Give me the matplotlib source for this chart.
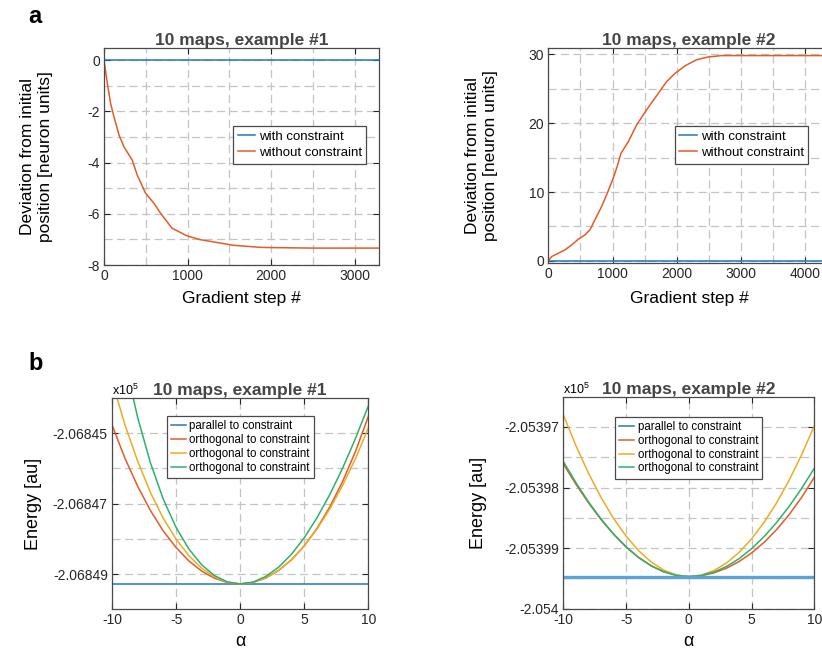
import matplotlib
matplotlib.use('Agg')
import matplotlib.pyplot as plt
from matplotlib.ticker import MultipleLocator, FuncFormatter

plt.rcParams['font.family'] = ['Liberation Sans', 'DejaVu Sans']
plt.rcParams['mathtext.fontset'] = 'custom'
plt.rcParams['mathtext.rm'] = 'Liberation Sans'
plt.rcParams['axes.unicode_minus'] = False

# ---- panel a : deviation from initial position ----
steps_ex1 = [0, 40, 79, 119, 179, 238, 337, 397, 496, 595, 675, 813, 992, 1151,
             1349, 1548, 1865, 2000, 2500, 3000, 3300]
free_ex1 = [0, -0.91, -1.69, -2.21, -2.92, -3.38, -3.90, -4.48, -5.19, -5.58, -5.97,
            -6.56, -6.86, -7.01, -7.12, -7.23, -7.31, -7.32, -7.34, -7.34, -7.34]
con_steps_ex1 = [0, 3300]
con_ex1 = [0, 0]

steps_ex2 = [0, 52, 155, 259, 363, 466, 570, 648, 725, 829, 907, 1010, 1078, 1130,
             1244, 1373, 1477, 1580, 1710, 1839, 1969, 2124, 2306, 2487, 2694, 3057,
             3500, 4000, 4500]
free_ex2 = [0, 0.63, 1.11, 1.60, 2.32, 3.14, 3.77, 4.50, 5.95, 7.89, 9.58, 12.0, 13.9,
            15.6, 17.3, 19.7, 21.2, 22.6, 24.3, 26.0, 27.2, 28.3, 29.2, 29.6, 29.8,
            29.8, 29.8, 29.8, 29.8]
con_steps_ex2 = [0, 4500]
con_ex2 = [0, 0]

# ---- panel b : energy along directions (rise above minimum) ----
alpha = [-10, -9, -8, -7, -6, -5, -4, -3, -2, -1, 0, 1, 2, 3, 4, 5, 6, 7, 8, 9, 10]

emin_ex1 = -206849.28
orth1_ex1 = [4.51, 3.57, 2.77, 2.08, 1.50, 1.03, 0.652, 0.363, 0.161, 0.040, 0,
             0.042, 0.168, 0.381, 0.684, 1.08, 1.58, 2.19, 2.91, 3.76, 4.75]
orth2_ex1 = [5.76, 4.52, 3.48, 2.59, 1.86, 1.27, 0.799, 0.444, 0.195, 0.049, 0,
             0.043, 0.172, 0.387, 0.690, 1.08, 1.56, 2.13, 2.80, 3.56, 4.42]
orth3_ex1 = [8.26, 6.31, 4.72, 3.43, 2.40, 1.60, 0.988, 0.540, 0.235, 0.058, 0,
             0.053, 0.212, 0.475, 0.842, 1.31, 1.88, 2.54, 3.29, 4.13, 5.05]

emin_ex2 = -205399.47
orth1_ex2 = [1.86, 1.525, 1.219, 0.943, 0.699, 0.49, 0.315, 0.178, 0.080, 0.020, 0,
             0.015, 0.061, 0.139, 0.248, 0.39, 0.566, 0.777, 1.025, 1.312, 1.64]
orth2_ex2 = [2.67, 2.163, 1.709, 1.308, 0.961, 0.668, 0.427, 0.240, 0.107, 0.027, 0,
             0.025, 0.100, 0.224, 0.398, 0.623, 0.896, 1.220, 1.594, 2.017, 2.49]
orth3_ex2 = [1.90, 1.552, 1.234, 0.951, 0.703, 0.49, 0.315, 0.177, 0.079, 0.020, 0,
             0.019, 0.074, 0.166, 0.295, 0.46, 0.660, 0.894, 1.161, 1.460, 1.79]

BLUE = '#2776b8'
RED = '#e25c28'
ORANGE = '#eeac22'
GREEN = '#2db16c'
EDGE = '#4a4a4a'


def style(ax):
    for s in ax.spines.values():
        s.set_color(EDGE)
        s.set_linewidth(0.9)
    ax.tick_params(which='major', direction='in', length=4, width=0.8, top=True,
                   right=True, labelsize=10, colors='#262626', pad=3)
    ax.tick_params(which='minor', length=0, top=True, right=True)
    ax.grid(True, which='both', color='#c4c4c4', lw=0.9, linestyle=(0, (6.5, 3.5)))
    ax.set_axisbelow(True)


def legend(ax, x, y, fs, spacing, handles=None, labels=None):
    if handles is None:
        handles, labels = ax.get_legend_handles_labels()
    leg = ax.legend(handles, labels, loc='upper left', bbox_to_anchor=(x, y),
                    borderaxespad=0, fancybox=False, edgecolor=EDGE, framealpha=1,
                    fontsize=fs, handlelength=1.3, handletextpad=0.3, borderpad=0.35,
                    labelspacing=spacing)
    leg.get_frame().set_linewidth(0.9)
    return leg


fig = plt.figure(figsize=(8.22, 6.54), dpi=100)

# a, example 1
ax1 = fig.add_axes([0.1265, 0.5948, 0.3345, 0.3318])
ax1.plot(con_steps_ex1, con_ex1, color=BLUE, lw=1.1, label='with constraint')
ax1.plot(steps_ex1, free_ex1, color=RED, lw=1.1, label='without constraint')
ax1.set_xlim(0, 3290)
ax1.set_ylim(-8, 0.47)
ax1.xaxis.set_major_locator(MultipleLocator(1000))
ax1.xaxis.set_minor_locator(MultipleLocator(500))
ax1.yaxis.set_major_locator(MultipleLocator(2))
ax1.yaxis.set_minor_locator(MultipleLocator(1))
style(ax1)
legend(ax1, 0.469, 0.641, 9.5, 0.3)
ax1.set_title('10 maps, example #1', fontsize=12.5, fontweight='bold', color='#454545', pad=1)
ax1.set_xlabel('Gradient step #', fontsize=12.5)
ax1.set_ylabel('Deviation from initial\nposition [neuron units]', fontsize=12.5, linespacing=1.25)
ax1.xaxis.set_label_coords(0.5, -0.12)
ax1.yaxis.set_label_coords(-0.185, 0.5)

# a, example 2
ax2 = fig.add_axes([0.667, 0.5979, 0.343, 0.3292])
ax2.plot(con_steps_ex2, con_ex2, color=BLUE, lw=1.1, label='with constraint')
ax2.plot(steps_ex2, free_ex2, color=RED, lw=1.1, label='without constraint')
ax2.set_xlim(0, 4385)
ax2.set_ylim(-0.3, 30.95)
ax2.xaxis.set_major_locator(MultipleLocator(1000))
ax2.xaxis.set_minor_locator(MultipleLocator(500))
ax2.yaxis.set_major_locator(MultipleLocator(10))
ax2.yaxis.set_minor_locator(MultipleLocator(5))
style(ax2)
legend(ax2, 0.449, 0.636, 9.5, 0.3)
ax2.set_title('10 maps, example #2', fontsize=12.5, fontweight='bold', color='#454545', pad=1)
ax2.set_xlabel('Gradient step #', fontsize=12.5)
ax2.set_ylabel('Deviation from initial\nposition [neuron units]', fontsize=12.5, linespacing=1.25)
ax2.xaxis.set_label_coords(0.5, -0.13)
ax2.yaxis.set_label_coords(-0.178, 0.5)

energy_fmt = FuncFormatter(lambda v, p: '%g' % round(v / 1e5, 5))

# b, example 1
ax3 = fig.add_axes([0.1363, 0.0683, 0.3118, 0.3235])
ax3.axhline(emin_ex1, color=BLUE, lw=1.1, label='parallel to constraint')
ax3.plot(alpha, [emin_ex1 + r for r in orth1_ex1], color=RED, lw=1.1, label='orthogonal to constraint')
ax3.plot(alpha, [emin_ex1 + r for r in orth2_ex1], color=ORANGE, lw=1.1, label='orthogonal to constraint')
ax3.plot(alpha, [emin_ex1 + r for r in orth3_ex1], color=GREEN, lw=1.1, label='orthogonal to constraint')
ax3.set_xlim(-10, 10)
ax3.set_ylim(-206850, -206844)
ax3.xaxis.set_major_locator(MultipleLocator(5))
ax3.set_yticks([-206849, -206847, -206845])
ax3.set_yticks([-206848, -206846], minor=True)
ax3.yaxis.set_major_formatter(energy_fmt)
style(ax3)
legend(ax3, 0.213, 0.9135, 8.3, 0.17)
ax3.set_title('10 maps, example #1', fontsize=12.5, fontweight='bold', color='#454545', pad=2)
ax3.text(0, 1.0, r'x10$^{5}$', transform=ax3.transAxes, ha='left', va='bottom', fontsize=9)
ax3.set_xlabel('α', fontsize=13)
ax3.set_ylabel('Energy [au]', fontsize=13)
ax3.xaxis.set_label_coords(0.5, -0.11)
ax3.yaxis.set_label_coords(-0.273, 0.5)

# b, example 2
ax4 = fig.add_axes([0.6853, 0.0693, 0.3054, 0.3242])
ax4.plot(alpha, [emin_ex2 + r for r in orth1_ex2], color=RED, lw=1.1, label='orthogonal to constraint')
ax4.plot(alpha, [emin_ex2 + r for r in orth2_ex2], color=ORANGE, lw=1.1, label='orthogonal to constraint')
ax4.plot(alpha, [emin_ex2 + r for r in orth3_ex2], color=GREEN, lw=1.1, label='orthogonal to constraint')
ax4.axhline(emin_ex2, color='#5aa4da', lw=2.4, label='parallel to constraint')
h, l = ax4.get_legend_handles_labels()
ax4.set_xlim(-10, 10)
ax4.set_ylim(-205400, -205396.5)
ax4.xaxis.set_major_locator(MultipleLocator(5))
ax4.set_yticks([-205400, -205399, -205398, -205397])
ax4.set_yticks([-205399.5, -205398.5, -205397.5], minor=True)
ax4.yaxis.set_major_formatter(energy_fmt)
style(ax4)
leg = legend(ax4, 0.206, 0.906, 8.3, 0.17, [h[3], h[0], h[1], h[2]], [l[3], l[0], l[1], l[2]])
leg.legend_handles[0].set_linewidth(1.1)
leg.legend_handles[0].set_color(BLUE)
ax4.set_title('10 maps, example #2', fontsize=12.5, fontweight='bold', color='#454545', pad=2)
ax4.text(0, 1.0, r'x10$^{5}$', transform=ax4.transAxes, ha='left', va='bottom', fontsize=9)
ax4.set_xlabel('α', fontsize=13)
ax4.set_ylabel('Energy [au]', fontsize=13)
ax4.xaxis.set_label_coords(0.5, -0.113)
ax4.yaxis.set_label_coords(-0.304, 0.5)

fig.text(28 / 822, 1 - 23 / 654, 'a', fontsize=17, fontweight='bold', va='baseline')
fig.text(28 / 822, 1 - 370 / 654, 'b', fontsize=17, fontweight='bold', va='baseline')

fig.savefig('out.png', dpi=100)
